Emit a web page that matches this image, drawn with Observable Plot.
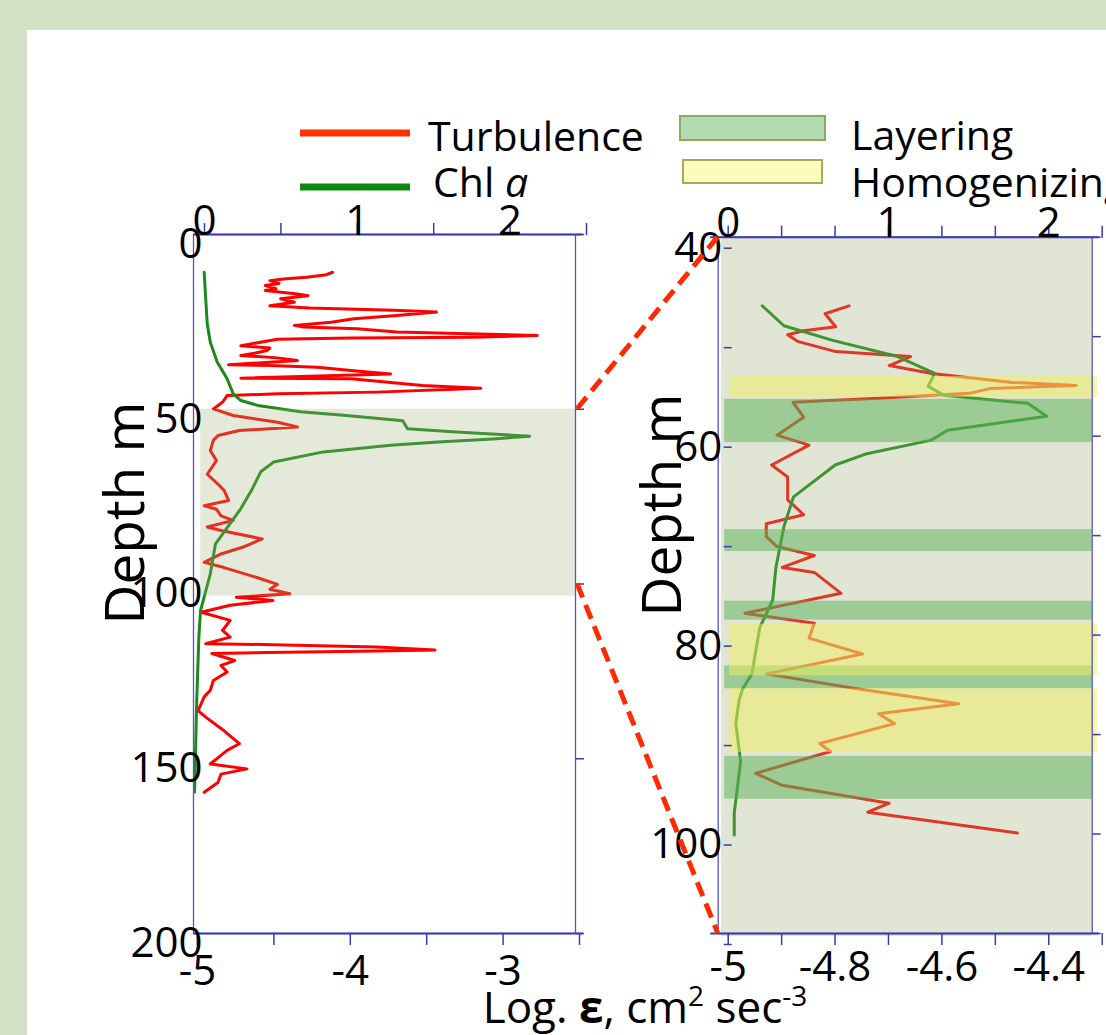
<!DOCTYPE html>
<html><head><meta charset="utf-8">
<script src="https://cdn.jsdelivr.net/npm/d3@7"></script>
<script src="https://cdn.jsdelivr.net/npm/@observablehq/plot@0.6"></script>
<style>
body{margin:0;width:1106px;height:1035px;overflow:hidden;background:#d3e1c4;position:relative;font-family:"Open Sans",sans-serif;}
#panel{position:absolute;left:27px;top:30px;width:1079px;height:1005px;background:#fff;}
</style></head><body>
<div id="panel"></div>
<script>
// ---------- DATA ----------
// Left panel: full profile (depth m, log epsilon)
const leftTurbDepth = [10.8,11.5,12.2,12.7,13.2,14.0,14.6,15.5,16.0,17.0,17.5,18.4,19.4,20.4,21.0,21.7,22.2,23.2,24.1,25.1,26.0,26.5,27.0,27.9,28.9,29.4,29.6,30.0,31.8,32.5,33.2,34.0,34.6,35.3,36.05,37.3,37.5,38.0,39.2,39.9,41.1,41.3,43.2,44.0,45.1,45.6,46.1,48.0,49.9,51.8,53.7,55.1,56.1,57.5,58.9,61.8,64.7,68.6,71.4,73.2,76.1,77.6,78.6,80.5,81.8,83.7,84.7,87.1,89.5,91.4,93.8,95.3,98.2,100.1,101.5,102.8,103.8,104.7,106.1,108.1,110.4,113.3,115.2,117.1,117.3,118.0,118.9,119.2,119.6,119.9,121.9,123.3,125.2,127.6,130.4,132.3,136.2,138.1,142.0,145.7,147.6,151.5,152.9,154.4,156.8,159.6];
const leftTurbEps = [-4.09,-4.13,-4.26,-4.41,-4.50,-4.44,-4.53,-4.46,-4.53,-4.32,-4.25,-4.43,-4.34,-4.50,-4.24,-3.69,-3.41,-3.67,-3.95,-4.10,-4.34,-4.28,-3.93,-3.67,-2.75,-3.17,-3.97,-4.45,-4.69,-4.50,-4.52,-4.60,-4.69,-4.45,-4.32,-4.77,-4.50,-4.19,-3.90,-3.71,-4.69,-3.97,-3.50,-3.12,-3.80,-4.45,-4.78,-4.81,-4.87,-4.74,-4.45,-4.32,-4.70,-4.84,-4.87,-4.89,-4.85,-4.91,-4.84,-4.80,-4.77,-4.93,-4.85,-4.82,-4.74,-4.91,-4.82,-4.55,-4.68,-4.82,-4.93,-4.80,-4.58,-4.45,-4.50,-4.37,-4.72,-4.48,-4.76,-4.95,-4.76,-4.81,-4.76,-4.92,-4.55,-3.80,-3.42,-3.80,-4.51,-4.88,-4.73,-4.82,-4.78,-4.87,-4.89,-4.93,-4.97,-4.92,-4.80,-4.70,-4.78,-4.89,-4.65,-4.82,-4.84,-4.93];
// Left panel: Chl a (depth m, mg m-3)
const leftChlDepth = [10.8,18.4,25.6,30.8,36.5,41.3,45.6,47.5,48.9,50.7,51.8,53.3,55.6,56.5,57.7,58.5,59.4,60.3,62.2,65.1,67.9,73.2,78.4,83.3,88.5,97.1,107.6,115.2,135.2,159.6];
const leftChlVal = [0.07,0.08,0.09,0.11,0.155,0.22,0.26,0.31,0.42,0.70,1.00,1.37,1.40,1.72,2.20,1.96,1.60,1.29,0.85,0.525,0.44,0.38,0.31,0.23,0.144,0.11,0.046,0.035,0.02,0.007];
// Left panel zoomed-in depth range
const leftShadeTop = [50];
const leftShadeBottom = [103.5];

// Right panel: zoomed profile
const rightTurbDepth = [46.9,47.7,49.0,49.4,49.8,50.5,51.5,52.0,52.9,53.7,54.6,54.9,55.2,55.7,56.2,56.6,58.1,59.9,60.9,62.9,64.1,66.4,67.9,68.8,70.1,71.1,72.0,73.2,73.7,75.8,77.8,78.8,80.3,81.9,83.9,85.4,86.9,87.9,88.9,90.9,91.7,93.9,95.1,96.9,97.8,99.9];
const rightTurbEps = [-4.755,-4.80,-4.78,-4.84,-4.87,-4.85,-4.78,-4.64,-4.68,-4.60,-4.45,-4.33,-4.49,-4.53,-4.70,-4.86,-4.84,-4.89,-4.83,-4.90,-4.87,-4.87,-4.84,-4.91,-4.91,-4.89,-4.82,-4.88,-4.82,-4.77,-4.95,-4.82,-4.83,-4.73,-4.91,-4.74,-4.55,-4.70,-4.67,-4.81,-4.79,-4.93,-4.88,-4.68,-4.72,-4.44];
const rightChlDepth = [46.9,48.9,50.4,52.0,53.7,55.0,55.9,56.7,58.0,59.4,60.4,61.8,62.9,66.1,69.1,73.2,76.5,79.2,83.9,85.5,86.6,88.9,92.7,95.3,97.9,100.1];
const rightChlVal = [0.275,0.41,0.72,1.12,1.35,1.31,1.41,1.93,2.05,1.43,1.33,0.92,0.73,0.47,0.41,0.36,0.34,0.26,0.21,0.15,0.13,0.11,0.14,0.12,0.10,0.10];
// Right panel: layer bands (depth top, depth bottom)
const layeringTop = [56.3,69.4,76.6,83.1,92.2];
const layeringBottom = [60.65,71.6,78.5,85.4,96.5];
const homogTop = [54.0,78.9,85.4];
const homogBottom = [56.1,84.1,91.8];

// Axis ticks and labels
const leftEpsTicks = [-5,-4.5,-4,-3.5,-3,-2.5];
const leftEpsLabels = [-5,-4,-3];
const leftChlLabels = [0,1,2];
const leftDepthTicks = [0,50,100,150,200];
const rightEpsTicks = [-5,-4.9,-4.8,-4.7,-4.6,-4.5,-4.4,-4.3];
const rightEpsLabels = [-5,-4.8,-4.6,-4.4];
const rightChlLabels = [0,1,2];
const rightDepthTicks = [40,50,60,70,80,90,100,110];
const rightDepthLabels = [40,60,80,100];

// ---------- BUILD ----------
const AXIS = "#3a3ab2";
const FONT = "'Open Sans', sans-serif";
const kL = 1, kR = 0.3;   // chl units per log-eps unit on each panel
const rows = (ds, vs, key) => ds.map((d, i) => ({depth: d, [key]: vs[i]}));
const bands = (t, b) => t.map((v, i) => ({top: v, bottom: b[i]}));
const leftTurb = rows(leftTurbDepth, leftTurbEps, "eps");
const leftChl = rows(leftChlDepth, leftChlVal, "chl");
const rightTurb = rows(rightTurbDepth, rightTurbEps, "eps");
const rightChl = rows(rightChlDepth, rightChlVal, "chl");
const leftShade = bands(leftShadeTop, leftShadeBottom);
const layering = bands(layeringTop, layeringBottom);
const homog = bands(homogTop, homogBottom);

const near = (a, b) => Math.abs(a - b) < 1e-6;
const epsFmt = labels => v => labels.some(l => near(l, v)) ? String(v) : "";
const chlFmt = (k, labels) => v => { const c = (v + 5) / k; const m = labels.find(l => near(l, c)); return m === undefined ? "" : String(m); };
const depthFmt = labels => v => labels.includes(v) ? String(v) : "";

const baseStyle = (left) => ({position: "absolute", left: left + "px", top: "0px", background: "transparent", overflow: "visible", fontFamily: FONT, fontSize: "42px", color: "#000"});

const left = Plot.plot({
  width: 600, height: 1035,
  marginLeft: 193, marginRight: 25, marginTop: 234, marginBottom: 102,
  style: baseStyle(0),
  x: {domain: [-5, -2.5]},
  y: {domain: [0, 200], reverse: true},
  marks: [
    Plot.line(leftTurb, {x: "eps", y: "depth", stroke: "#ff0000", strokeWidth: 3}),
    Plot.line(leftChl, {x: d => -5 + d.chl * kL, y: "depth", stroke: "#1b8a1b", strokeWidth: 3}),
    Plot.rect(leftShade, {x1: -4.953, x2: -2.5, y1: "top", y2: "bottom", fill: "#a0af78", fillOpacity: 0.28}),
    Plot.frame({stroke: "#5555c0", strokeWidth: 1.3}),
    Plot.ruleY([0, 200], {x1: -5, x2: -2.453, stroke: AXIS, strokeWidth: 2}),
    Plot.axisX({anchor: "bottom", ticks: leftEpsTicks, tickSize: 12, tickPadding: 10, tickFormat: epsFmt(leftEpsLabels), stroke: AXIS, strokeWidth: 1.5, dx: 4, label: null}),
    Plot.axisX({anchor: "top", ticks: leftEpsTicks, tickSize: 12, tickPadding: -12, tickFormat: chlFmt(kL, leftChlLabels), stroke: AXIS, strokeWidth: 1.5, dx: 11, label: null}),
    Plot.axisY({anchor: "left", ticks: leftDepthTicks, tickSize: 0, tickPadding: -9, tickFormat: d => String(d), dy: 10, label: null}),
    Plot.axisY({anchor: "right", ticks: leftDepthTicks, tickSize: 8, tickFormat: () => "", stroke: AXIS, strokeWidth: 1.5, label: null})
  ]
});

const right = Plot.plot({
  width: 506, height: 1035,
  marginLeft: 117.7, marginRight: 14.3, marginTop: 236.7, marginBottom: 102,
  style: baseStyle(600),
  x: {domain: [-5, -4.3]},
  y: {domain: [40, 110], reverse: true},
  marks: [
    Plot.line(rightTurb, {x: "eps", y: "depth", stroke: "#ff0000", strokeWidth: 3}),
    Plot.line(rightChl, {x: d => -5 + d.chl * kR, y: "depth", stroke: "#128812", strokeWidth: 3}),
    Plot.rect([{top: 40, bottom: 110.3}], {x1: -4.994, x2: -4.3, y1: "top", y2: "bottom", fill: "#a0af78", fillOpacity: 0.32}),
    Plot.rect(layering, {x1: -4.988, x2: -4.3, y1: "top", y2: "bottom", fill: "#57b255", fillOpacity: 0.5}),
    Plot.rect(homog, {x1: -4.979, x2: -4.29, y1: "top", y2: "bottom", fill: "#eff05d", fillOpacity: 0.5}),
    Plot.frame({stroke: "#5555c0", strokeWidth: 1.3}),
    Plot.ruleY([40, 110], {x1: -5.014, x2: -4.287, stroke: AXIS, strokeWidth: 2}),
    Plot.axisX({anchor: "bottom", ticks: rightEpsTicks, tickSize: 12, tickPadding: 6, tickFormat: epsFmt(rightEpsLabels), stroke: AXIS, strokeWidth: 1.5, dx: 10, label: null}),
    Plot.axisX({anchor: "top", ticks: rightEpsTicks, tickSize: 12, tickPadding: -12, tickFormat: chlFmt(kR, rightChlLabels), stroke: AXIS, strokeWidth: 1.5, dx: 10, label: null}),
    Plot.axisY({anchor: "left", ticks: rightDepthTicks, tickSize: 8, tickPadding: 2, tickFormat: depthFmt(rightDepthLabels), stroke: AXIS, strokeWidth: 1.5, dx: 14, dy: 11, label: null}),
    Plot.axisY({anchor: "right", ticks: rightDepthTicks, tickSize: 8, tickFormat: () => "", stroke: AXIS, strokeWidth: 1.5, label: null})
  ]
});

document.body.appendChild(left);
document.body.appendChild(right);

// ---------- OVERLAY: connectors, legend, titles ----------
const ov = d3.create("svg").attr("width", 1106).attr("height", 1035)
  .style("position", "absolute").style("left", "0px").style("top", "0px")
  .style("font-family", FONT);
const lx = left.scale("x").apply(-2.5), ly = left.scale("y");
const rx = 600 + right.scale("x").apply(-5), ry = right.scale("y");
[[leftShadeTop[0], 40], [100, 110]].forEach(([a, b]) => {
  ov.append("line").attr("x1", lx + 2).attr("y1", ly.apply(a)).attr("x2", rx).attr("y2", ry.apply(b))
    .attr("stroke", "#ff2a00").attr("stroke-width", 5).attr("stroke-dasharray", "15 8");
});
// legend
const lg = ov.append("g").attr("font-size", 41);
lg.append("line").attr("x1", 300).attr("x2", 410).attr("y1", 133).attr("y2", 133).attr("stroke", "#ff3300").attr("stroke-width", 7);
lg.append("text").attr("x", 428).attr("y", 151).text("Turbulence");
lg.append("line").attr("x1", 300).attr("x2", 410).attr("y1", 187).attr("y2", 187).attr("stroke", "#0f8a0f").attr("stroke-width", 7);
const chlT = lg.append("text").attr("x", 433).attr("y", 197);
chlT.append("tspan").text("Chl ");
chlT.append("tspan").attr("font-style", "italic").text("a");
lg.append("rect").attr("x", 680).attr("y", 116).attr("width", 145).attr("height", 24).attr("fill", "#b3dbb3").attr("stroke", "#8aab5e").attr("stroke-width", 2);
lg.append("text").attr("x", 851).attr("y", 150).text("Layering");
lg.append("rect").attr("x", 683).attr("y", 160).attr("width", 139).attr("height", 23).attr("fill", "#fcfcbd").attr("stroke", "#a9a95a").attr("stroke-width", 2);
lg.append("text").attr("x", 851).attr("y", 197).text("Homogenizing");
// axis titles
ov.append("text").attr("transform", "translate(122,513) rotate(-90)").attr("text-anchor", "middle")
  .attr("dominant-baseline", "central").attr("font-size", 55).text("Depth m");
ov.append("text").attr("transform", "translate(659,505) rotate(-90)").attr("text-anchor", "middle")
  .attr("dominant-baseline", "central").attr("font-size", 55).text("Depth m");
const xt = ov.append("text").attr("x", 645).attr("y", 1023).attr("text-anchor", "middle").attr("font-size", 44);
xt.append("tspan").text("Log. ");
xt.append("tspan").attr("font-weight", "bold").text("ε");
xt.append("tspan").text(", cm");
xt.append("tspan").attr("font-size", 28).attr("dy", -17).text("2");
xt.append("tspan").attr("dy", 17).text(" sec");
xt.append("tspan").attr("font-size", 28).attr("dy", -17).text("-3");
document.body.appendChild(ov.node());
</script>
</body></html>
